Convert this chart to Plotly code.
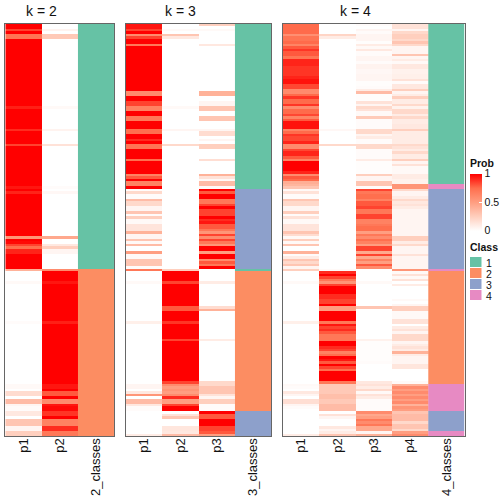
import plotly.graph_objects as go

N_ROWS = 165
# Each series: (first row, value) runs; a value holds until the next run.
k2_p1 = [(0,1),(2,.85),(3,1),(4,.72),(6,1),(33,.93),(34,1),(42,.9),(43,1),(48,.85),(49,1),(65,.95),(66,1),(67,.92),(68,1),
         (85,.55),(86,1),(87,.98),(88,.85),(89,.75),(90,.92),(92,1),(98,.4),(99,0),(103,.03),(104,0),(119,.02),(120,0),
         (144,.03),(146,0),(147,.18),(149,0),(150,.35),(152,.05),(153,.02),(155,.12),(157,0),(158,.3),(161,.05),(163,.25)]
k2_p2 = [(0,0),(2,.06),(3,0),(4,.28),(6,0),(33,.03),(34,0),(42,.06),(43,0),(48,.15),(49,0),(65,.02),(66,0),(67,.04),(68,0),
         (85,.45),(86,0),(88,.12),(89,.25),(90,.05),(92,0),(98,.6),(99,1),(103,.95),(104,1),(119,.93),(120,1),
         (144,.95),(146,1),(147,.8),(149,1),(150,.6),(152,.95),(153,.98),(155,.88),(157,1),(158,.65),(161,.9),(163,.7)]
k3_p1 = [(0,.95),(2,.85),(3,1),(4,.6),(5,.85),(6,1),(8,.7),(9,1),(27,.6),(29,1),(31,.85),(33,.65),(35,1),(37,.7),(39,1),
         (42,.75),(44,1),(46,.9),(47,1),(48,.72),(50,1),(54,.75),(55,1),(60,.65),(61,.8),(62,1),(63,.65),(65,1),
         (66,.02),(67,.2),(68,.02),(70,.35),(71,.2),(73,.05),(75,.3),(76,.02),(77,.25),(78,.03),(80,.14),(83,.4),(84,.05),
         (86,.3),(87,.03),(88,.35),(89,0),(91,.5),(92,.03),(94,.3),(97,.02),(98,.7),(99,0),(103,.03),(104,0),(119,.08),(120,0),
         (144,.05),(146,0),(147,.12),(148,.55),(149,0),(150,.35),(152,.12),(153,.02),(155,0),(164,.1)]
k3_p2 = [(0,0),(2,.03),(3,0),(4,.3),(5,.12),(6,0),(33,.03),(34,0),(42,.05),(43,0),(48,.2),(49,0),(98,.25),(99,1),(103,.85),(104,1),
         (113,.8),(115,1),(119,.88),(120,1),(126,.85),(127,1),(143,.85),(144,.6),(145,.5),(146,.55),(147,.5),(148,.6),(149,.9),
         (150,.5),(152,.85),(153,1),(155,0),(156,.15),(157,.3),(158,0),(161,.13),(163,.12),(164,.35)]
k3_p3 = [(0,.25),(1,0),(2,.03),(3,0),(8,.12),(9,0),(27,.4),(29,0),(31,.05),(33,.3),(35,0),(37,.3),(39,0),(42,.05),(43,.18),(45,0),
         (46,.05),(47,0),(48,.25),(50,0),(54,.17),(55,0),(60,.4),(61,.15),(62,.03),(63,.35),(65,.03),(66,1),(67,.8),(68,1),
         (70,.7),(72,.85),(73,1),(74,.85),(77,1),(78,.9),(79,.95),(80,.8),(82,.7),(83,.55),(84,.85),(85,.6),(86,.85),(87,.7),(88,.55),(89,1),
         (91,.5),(92,1),(94,.6),(95,.8),(96,.7),(97,1),(98,0),(103,.1),(104,0),(113,.18),(114,.4),(115,0),(126,.1),(127,0),
         (143,.2),(145,.3),(148,.15),(149,.05),(150,.25),(152,.02),(155,1),(156,.8),(158,1),(161,.85),(163,.8),(164,.5)]
k4_p1 = [(0,.76),(4,.58),(5,.72),(7,.76),(8,.64),(9,.8),(10,.88),(11,.8),(13,.72),(14,.92),(17,.88),(21,.92),(22,.96),(24,.84),(26,.6),
         (28,.76),(29,.88),(30,.76),(32,.88),(33,.6),(34,.76),(36,.84),(37,.64),(38,.8),(39,.96),(42,.64),(43,.76),(44,.88),(45,.84),(47,.92),
         (48,.6),(50,.84),(51,.92),(53,.8),(54,.64),(55,1),(59,.92),(60,.6),(61,.8),(62,.76),(63,.42),(64,.38),(65,.3),
         (66,.03),(67,.15),(68,.02),(70,.3),(71,.2),(73,.05),(75,.25),(76,.02),(77,.15),(78,.03),(80,.14),(83,.3),(84,.18),(85,.03),(86,.25),
         (87,.03),(88,.3),(89,0),(91,.4),(92,.02),(93,.1),(94,.3),(95,.2),(96,.3),(97,.05),(98,.25),(99,0),(103,.03),(104,0),(119,.08),(120,0),
         (144,.03),(145,.02),(146,0),(147,.12),(148,.05),(149,0),(150,.17),(152,.05),(153,.02),(154,0),(164,.1)]
k4_p2 = [(0,0),(4,.22),(5,.1),(6,0),(42,.04),(43,0),(48,.2),(49,0),(98,.03),(99,.9),(100,1),(101,.85),(102,.7),(103,.55),(104,.85),(105,1),
         (108,.9),(110,.85),(112,1),(113,.5),(115,1),(119,.7),(120,.95),(121,.85),(122,.9),(123,.8),(124,.7),(127,1),(129,.9),(130,.85),
         (131,.65),(132,.75),(133,1),(134,.95),(135,.8),(136,1),(137,.85),(138,.75),(139,1),(143,.7),(144,.28),(148,.33),(150,.28),(152,.35),
         (155,0),(156,.15),(157,.05),(158,0),(161,.12),(162,.05),(163,.1),(164,.3)]
k4_p3 = [(0,.02),(1,0),(2,.05),(3,.02),(4,.05),(7,.01),(8,.1),(9,.03),(10,.12),(11,.02),(13,.05),(15,.02),(16,.06),(18,.04),(20,.05),(23,.01),
         (25,.02),(26,.1),(27,.35),(28,.01),(31,.15),(32,.05),(33,.2),(34,.15),(35,.03),(37,.27),(38,.02),(42,.2),(44,.05),(45,.1),(46,.02),
         (48,.2),(50,.02),(54,.1),(55,.01),(60,.25),(61,.05),(63,.3),(65,.02),(66,.85),(67,.7),(68,.75),(70,.65),(71,.8),(73,.85),(74,.7),(76,.85),
         (78,.65),(80,.7),(81,.75),(83,.5),(84,.7),(85,.6),(86,.75),(87,.65),(88,.5),(89,.85),(91,.45),(92,.85),(93,.45),(94,.65),(95,.5),(96,.8),(97,.6),
         (98,0),(103,.03),(104,0),(113,.3),(114,0),(126,.07),(127,.01),(135,.02),(136,0),(143,.12),(144,.15),(145,.1),(146,.2),(147,.03),(148,.15),(149,.1),(150,.02),
         (155,.6),(156,.45),(157,.5),(158,.7),(159,.6),(160,.7),(161,.45),(163,.05),(164,.4)]
k4_p4 = [(0,.15),(2,.05),(3,.2),(4,.25),(6,.2),(7,.3),(8,.2),(9,.05),(12,.3),(13,.05),(14,.1),(15,.03),(16,.12),(18,.07),(20,.08),(22,.15),(23,.02),(24,.12),
         (26,.25),(27,.05),(28,.1),(29,.25),(30,.1),(32,.2),(33,.07),(34,.2),(36,.1),(37,.2),(38,.1),(40,.12),(42,.25),(43,.1),(48,.2),(49,.15),(50,.1),(51,.2),(52,.1),
         (54,.25),(55,.05),(56,.15),(57,.03),(60,.1),(62,.07),(64,.55),(66,.2),(67,.05),(69,.1),(70,.2),(71,.12),(72,.15),(73,.1),(74,.05),
         (85,.25),(87,.1),(88,.2),(89,.05),(92,.15),(93,.05),(98,.55),(99,.03),(100,.15),(101,.03),(102,.15),(103,0),(104,.1),(105,0),(110,.03),(111,0),(112,.05),(113,.25),(115,.03),
         (118,.15),(120,0),(121,.1),(122,.15),(123,.05),(124,.2),(127,.05),(128,.1),(129,.15),(130,.1),(131,.4),(132,.1),(133,.05),(136,.13),(138,0),(143,.03),
         (144,.4),(145,.6),(146,.5),(147,.6),(148,.5),(149,.6),(150,.5),(151,.6),(152,.4),(153,.55),(154,.5),(155,.3),(156,.35),(159,.2),(160,.3),(162,.2),(163,.5),(164,.6)]
k2_class = [(0,1),(98,2)]
k3_class = [(0,1),(66,3),(98,1),(99,2),(155,3)]
k4_class = [(0,1),(64,4),(66,3),(98,4),(99,2),(144,4),(155,3),(163,4)]

PANELS = [
    ("k = 2", ["p1", "p2"], [k2_p1, k2_p2], "2_classes", k2_class),
    ("k = 3", ["p1", "p2", "p3"], [k3_p1, k3_p2, k3_p3], "3_classes", k3_class),
    ("k = 4", ["p1", "p2", "p3", "p4"], [k4_p1, k4_p2, k4_p3, k4_p4], "4_classes", k4_class),
]
CLASS_LABELS = ["1", "2", "3", "4"]
CLASS_COLORS = ["#66C2A5", "#FC8D62", "#8DA0CB", "#E78AC3"]
PROB_TICKS = [0, 0.5, 1]
PROB_SCALE = [[0, "#FFFFFF"], [.25, "#FFCFBE"], [.5, "#FF9E81"], [.75, "#FF6F4E"], [1, "#FF0000"]]

W = H = 504
TOP, BOTTOM = 24, 436
EDGES = [(5.3, 114.3), (126, 271.3), (282.7, 464.7)]
FONT = "Liberation Sans"


def expand(runs):
    out = []
    for i, (start, v) in enumerate(runs):
        end = runs[i + 1][0] if i + 1 < len(runs) else N_ROWS
        out += [v] * (end - start)
    return out


def px(x):
    return x / W


def py(y):
    return 1 - y / H


fig = go.Figure()
annotations, shapes = [], []
rows = list(range(N_ROWS))
cs = []
for j, c in enumerate(CLASS_COLORS):
    cs += [[j / 4, c], [(j + 1) / 4, c]]
for i, (title, names, series, cname, classes) in enumerate(PANELS):
    s = "" if i == 0 else str(i + 1)
    xa, ya = "x" + s, "y" + s
    n = len(names)
    cols = [expand(c) for c in series]
    z = [[col[r] for col in cols] for r in rows]
    fig.add_trace(go.Heatmap(x0=0, dx=1, y0=0, dy=1, z=z, xaxis=xa, yaxis=ya, coloraxis="coloraxis"))
    fig.add_trace(go.Heatmap(x0=n, dx=1, y0=0, dy=1, z=[[v] for v in expand(classes)], xaxis=xa, yaxis=ya,
                             zmin=.5, zmax=4.5, colorscale=cs, showscale=False))
    l, r = EDGES[i]
    fig.layout["xaxis" + s] = dict(domain=[px(l), px(r)], range=[-.5, n + .5], tickmode="array",
                                   tickvals=list(range(n + 1)), ticktext=names + [cname], tickangle=-90,
                                   ticks="", ticklabelstandoff=-4,
                                   tickfont=dict(size=13, family=FONT, color="#111"),
                                   showgrid=False, zeroline=False, showline=True, mirror=True,
                                   linecolor="#666", linewidth=1, anchor=ya)
    fig.layout["yaxis" + s] = dict(domain=[py(BOTTOM), py(TOP)], range=[N_ROWS - .5, -.5], showticklabels=False,
                                   ticks="", showgrid=False, zeroline=False, showline=True, mirror=True,
                                   linecolor="#666", linewidth=1, anchor=xa)
    colw = (r - l) / (n + 1)
    annotations.append(dict(text=title, xref="paper", yref="paper", x=px(l + colw * n / 2), y=py(11),
                            showarrow=False, xanchor="center", yanchor="middle", font=dict(size=14, family=FONT, color="#111")))

annotations.append(dict(text="<b>Prob</b>", xref="paper", yref="paper", x=px(470), y=py(163), showarrow=False,
                        xanchor="left", yanchor="middle", xshift=-2, font=dict(size=10.5, family=FONT, color="#111")))
annotations.append(dict(text="<b>Class</b>", xref="paper", yref="paper", x=px(470), y=py(247), showarrow=False,
                        xanchor="left", yanchor="middle", xshift=-2, font=dict(size=10.5, family=FONT, color="#111")))
for j, (lab, c) in enumerate(zip(CLASS_LABELS, CLASS_COLORS)):
    top = 256.5 + j * 11
    shapes.append(dict(type="rect", xref="paper", yref="paper", x0=px(470), x1=px(481.5), y0=py(top + .5), y1=py(top + 10.5),
                       fillcolor=c, line=dict(width=0)))
    annotations.append(dict(text=lab, xref="paper", yref="paper", x=px(484), y=py(top + 6), showarrow=False,
                            xanchor="left", yanchor="middle", font=dict(size=10.5, family=FONT, color="#111")))

fig.update_layout(
    width=W, height=H, margin=dict(l=0, r=0, t=0, b=0, autoexpand=False), paper_bgcolor="white", plot_bgcolor="white",
    annotations=annotations, shapes=shapes,
    coloraxis=dict(cmin=0, cmax=1, colorscale=PROB_SCALE, colorbar=dict(
        x=px(470), xanchor="left", y=py(173.5), yanchor="top", len=57, lenmode="pixels", thickness=12, thicknessmode="pixels",
        xpad=0, ypad=0, outlinewidth=0, tickvals=PROB_TICKS, ticktext=["0", "0.5", "1"], ticks="inside", ticklen=3, tickcolor="white",
        tickfont=dict(size=10.5, family=FONT, color="#111"))),
)
fig.write_html("out.html", config={"displayModeBar": False},
               post_script="document.body.style.margin='0';document.documentElement.style.overflow='hidden';")
